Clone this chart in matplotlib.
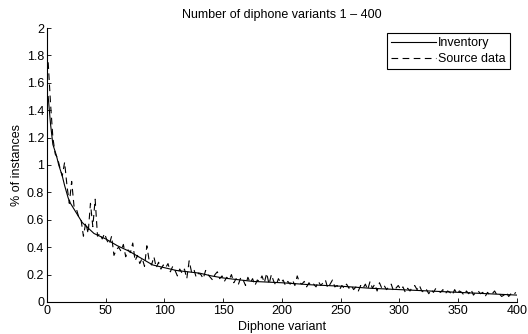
import matplotlib
matplotlib.use('Agg')
import matplotlib.pyplot as plt

# smooth inventory curve
inv_x = [1, 3, 5, 8, 10, 13, 15, 18, 20, 25, 30, 35, 40, 50, 60, 70, 80, 90, 100,
         110, 120, 130, 140, 150, 160, 175, 200, 225, 250, 275, 300, 325, 350, 375, 400]
inv_y = [1.50, 1.30, 1.15, 1.07, 1.00, 0.92, 0.85, 0.76, 0.72, 0.65, 0.58, 0.54, 0.50,
         0.46, 0.41, 0.37, 0.32, 0.27, 0.25, 0.23, 0.22, 0.21, 0.19, 0.175, 0.165, 0.15,
         0.14, 0.125, 0.115, 0.10, 0.09, 0.08, 0.07, 0.06, 0.05]

# noisy source data, every second variant
src_x = list(range(1, 400, 2))
src_y = [1.75, 1.45, 1.20, 1.08, 1.05, 0.98, 0.92, 1.02, 0.85, 0.72,
         0.88, 0.70, 0.68, 0.62, 0.60, 0.48, 0.58, 0.50, 0.72, 0.55,
         0.75, 0.48, 0.50, 0.46, 0.50, 0.45, 0.42, 0.48, 0.34, 0.38,
         0.40, 0.37, 0.42, 0.33, 0.38, 0.36, 0.43, 0.30, 0.34, 0.28,
         0.32, 0.26, 0.41, 0.30, 0.27, 0.33, 0.25, 0.29, 0.24, 0.27,
         0.25, 0.28, 0.22, 0.26, 0.23, 0.19, 0.24, 0.21, 0.24, 0.17,
         0.30, 0.22, 0.24, 0.18, 0.21, 0.20, 0.17, 0.23, 0.20, 0.18,
         0.16, 0.20, 0.22, 0.17, 0.19, 0.15, 0.18, 0.16, 0.20, 0.14,
         0.17, 0.13, 0.18, 0.16, 0.12, 0.18, 0.14, 0.17, 0.12, 0.16,
         0.15, 0.19, 0.14, 0.21, 0.13, 0.20, 0.15, 0.12, 0.17, 0.14,
         0.16, 0.12, 0.15, 0.13, 0.16, 0.12, 0.19, 0.14, 0.13, 0.15,
         0.11, 0.14, 0.12, 0.13, 0.11, 0.15, 0.12, 0.14, 0.16, 0.10,
         0.13, 0.16, 0.11, 0.12, 0.09, 0.12, 0.10, 0.13, 0.10, 0.12,
         0.09, 0.11, 0.08, 0.12, 0.10, 0.13, 0.09, 0.15, 0.10, 0.13,
         0.08, 0.14, 0.10, 0.12, 0.09, 0.11, 0.13, 0.08, 0.10, 0.12,
         0.09, 0.11, 0.07, 0.10, 0.08, 0.11, 0.12, 0.09, 0.12, 0.08,
         0.07, 0.09, 0.06, 0.09, 0.07, 0.10, 0.08, 0.07, 0.09, 0.06,
         0.08, 0.07, 0.05, 0.09, 0.06, 0.08, 0.07, 0.05, 0.08, 0.06,
         0.09, 0.05, 0.07, 0.08, 0.06, 0.07, 0.04, 0.07, 0.05, 0.06,
         0.08, 0.05, 0.06, 0.04, 0.05, 0.07, 0.04, 0.06, 0.05, 0.07]

x_ticks = [0, 50, 100, 150, 200, 250, 300, 350, 400]
y_ticks = [0, 0.2, 0.4, 0.6, 0.8, 1, 1.2, 1.4, 1.6, 1.8, 2]


def main():
    plt.rcParams['font.family'] = ['Liberation Sans', 'DejaVu Sans']
    plt.rcParams['font.size'] = 9
    fig = plt.figure(figsize=(5.28, 3.34), dpi=100)
    ax = fig.add_axes([0.089, 0.096, 0.890, 0.820])

    ax.plot(inv_x, inv_y, color='black', lw=0.8, label='Inventory')
    ax.plot(src_x, src_y, color='black', lw=0.8, ls=(0, (6, 4)), label='Source data')

    ax.set_xlim(0, 400)
    ax.set_ylim(0, 2)
    ax.set_xticks(x_ticks)
    ax.set_yticks(y_ticks)
    ax.set_yticklabels(['0', '0.2', '0.4', '0.6', '0.8', '1', '1.2', '1.4', '1.6', '1.8', '2'])
    ax.tick_params(direction='in', length=3, width=0.6, labelsize=9, pad=2)
    for s in ['top', 'right']:
        ax.spines[s].set_visible(False)
    for s in ['left', 'bottom']:
        ax.spines[s].set_linewidth(0.8)

    ax.set_title('Number of diphone variants 1 \u2013 400', fontsize=9, pad=7)
    ax.set_xlabel('Diphone variant', fontsize=9, labelpad=3)
    ax.set_ylabel('% of instances', fontsize=9, labelpad=3)

    leg = ax.legend(loc='upper right', bbox_to_anchor=(0.985, 0.982), fancybox=False,
                    edgecolor='black', framealpha=1, fontsize=9, handlelength=3.6,
                    handletextpad=0.15, borderpad=0.35, labelspacing=0.3, borderaxespad=0)
    leg.get_frame().set_linewidth(0.8)

    fig.savefig('out.png', dpi=100)


if __name__ == '__main__':
    main()
